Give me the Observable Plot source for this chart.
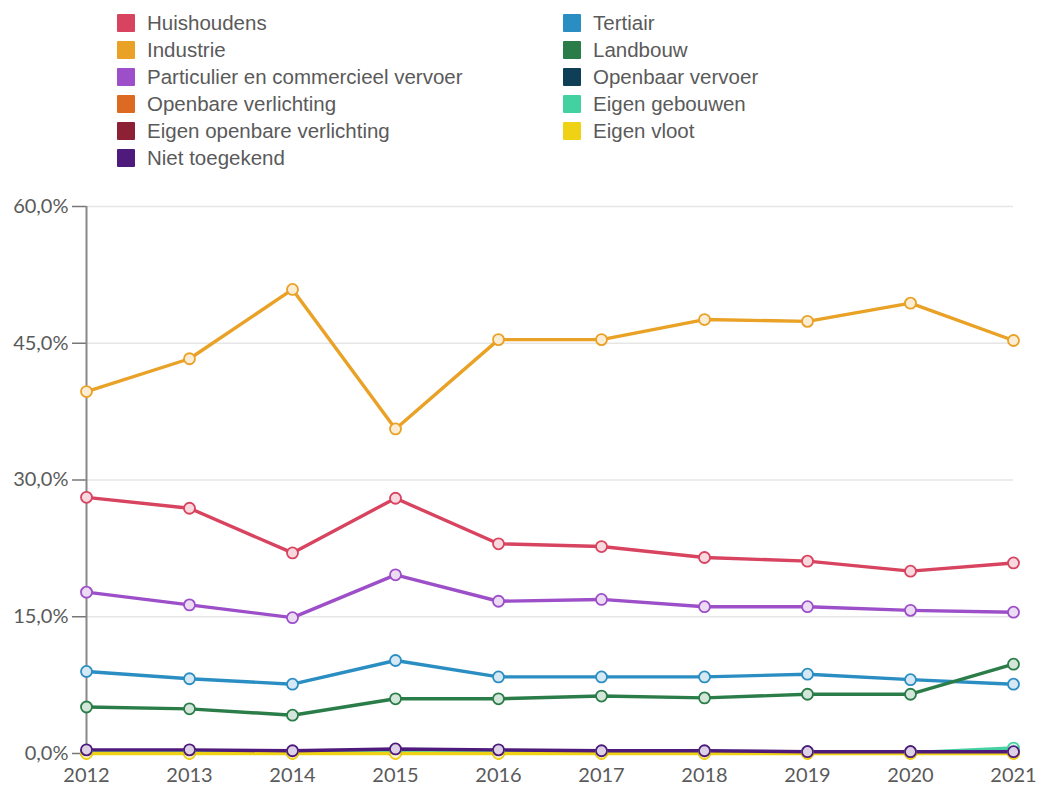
<!DOCTYPE html>
<html>
<head>
<meta charset="utf-8">
<script src="https://cdn.jsdelivr.net/npm/d3@7"></script>
<script src="https://cdn.jsdelivr.net/npm/@observablehq/plot@0.6"></script>
<style>
  body { margin: 0; background: #fff; font-family: "Liberation Sans", Arial, sans-serif; }
  #legend { position: relative; height: 180px; width: 1040px; }
  .item { position: absolute; display: flex; align-items: center; font-size: 20.5px; color: #5a5a5a; white-space: nowrap; height: 20px; }
  .sw { width: 18px; height: 18px; margin-right: 12px; border-radius: 1px; flex: none; }
</style>
</head>
<body>
<div id="legend"></div>
<div id="chart"></div>
<script>
const years = [2012, 2013, 2014, 2015, 2016, 2017, 2018, 2019, 2020, 2021];

const categories = [
  "Huishoudens", "Industrie", "Particulier en commercieel vervoer",
  "Openbare verlichting", "Eigen openbare verlichting", "Niet toegekend",
  "Tertiair", "Landbouw", "Openbaar vervoer", "Eigen gebouwen", "Eigen vloot"
];

const colors = [
  "#d8435f", "#e9a126", "#9c4fc9",
  "#dc6a22", "#8c2035", "#4e1a7c",
  "#2b8ec2", "#2a7d48", "#0f3f57", "#44d1a2", "#f0d214"
];

const huishoudens = [28.1, 26.9, 22.0, 28.0, 23.0, 22.7, 21.5, 21.1, 20.0, 20.9];
const industrie = [39.7, 43.3, 50.9, 35.6, 45.4, 45.4, 47.6, 47.4, 49.4, 45.3];
const particulier = [17.7, 16.3, 14.9, 19.6, 16.7, 16.9, 16.1, 16.1, 15.7, 15.5];
const openbareVerlichting = [0.1, 0.1, 0.1, 0.1, 0.1, 0.1, 0.1, 0.1, 0.1, 0.1];
const eigenOpenbareVerlichting = [0.05, 0.05, 0.05, 0.05, 0.05, 0.05, 0.05, 0.05, 0.05, 0.05];
const nietToegekend = [0.4, 0.4, 0.3, 0.5, 0.4, 0.3, 0.3, 0.2, 0.2, 0.2];
const tertiair = [9.0, 8.2, 7.6, 10.2, 8.4, 8.4, 8.4, 8.7, 8.1, 7.6];
const landbouw = [5.1, 4.9, 4.2, 6.0, 6.0, 6.3, 6.1, 6.5, 6.5, 9.8];
const openbaarVervoer = [0.2, 0.2, 0.2, 0.2, 0.2, 0.2, 0.2, 0.2, 0.2, 0.2];
const eigenGebouwen = [0.1, 0.1, 0.1, 0.1, 0.1, 0.1, 0.1, 0.1, 0.1, 0.6];
const eigenVloot = [0.0, 0.0, 0.0, 0.0, 0.0, 0.0, 0.0, 0.0, 0.0, 0.0];

const yTicks = [0, 15, 30, 45, 60];

const seriesValues = [
  huishoudens, industrie, particulier, openbareVerlichting, eigenOpenbareVerlichting,
  nietToegekend, tertiair, landbouw, openbaarVervoer, eigenGebouwen, eigenVloot
];

// drawing order: small ones first, main series on top, Niet toegekend on top of zero group
const drawOrder = [4, 3, 8, 9, 10, 5, 6, 7, 2, 0, 1];

const data = [];
drawOrder.forEach(i => {
  years.forEach((y, j) => data.push({ year: y, value: seriesValues[i][j], cat: categories[i], order: i }));
});

// Legend
const legend = document.getElementById("legend");
categories.forEach((c, i) => {
  const col = i < 6 ? 0 : 1;
  const row = i < 6 ? i : i - 6;
  const d = document.createElement("div");
  d.className = "item";
  d.style.left = (col === 0 ? 117 : 563) + "px";
  d.style.top = (12.5 + row * 27.1) + "px";
  d.innerHTML = `<div class="sw" style="background:${colors[i]}"></div><span>${c}</span>`;
  legend.appendChild(d);
});

const locale = d3.formatLocale({ decimal: ",", thousands: ".", grouping: [3], currency: ["€", ""] });
const fmt = v => locale.format(".1f")(v) + "%";

const colorScale = { domain: categories, range: colors };
const tint = c => d3.interpolateRgb(c, "#ffffff")(0.8);

const chart = Plot.plot({
  width: 1040,
  height: 607,
  marginTop: 26,
  marginBottom: 34,
  marginLeft: 86,
  marginRight: 27,
  style: { fontFamily: "Lato, sans-serif", fontSize: "20px", color: "#5a5a5a", background: "#fff" },
  x: { domain: [2012, 2021], label: null },
  y: { domain: [0, 60], label: null },
  color: colorScale,
  marks: [
    Plot.gridY(yTicks, { stroke: "#e6e6e6", strokeOpacity: 1, strokeWidth: 1.5, x1: 2012, x2: 2021 }),
    Plot.axisX({ ticks: years, tickFormat: d => String(d), stroke: "#777", tickSize: 7, tickPadding: 7, fontSize: 20, fill: "#5a5a5a" }),
    Plot.axisY({ ticks: yTicks, tickFormat: fmt, stroke: "#777", tickSize: 14, tickPadding: 4, fontSize: 20, fill: "#5a5a5a", strokeWidth: 1.5 }),
    Plot.ruleX([2012], { y1: 0, y2: 60, stroke: "#888", strokeWidth: 2 }),
    Plot.line(data, { x: "year", y: "value", z: "cat", stroke: "cat", strokeWidth: 3.4, curve: "linear" }),
    Plot.dot(data, {
      x: "year", y: "value", r: 5.5, stroke: "cat", strokeWidth: 1.8,
      fill: d => tint(colors[d.order])
    })
  ]
});

document.getElementById("chart").appendChild(chart);
</script>
</body>
</html>
